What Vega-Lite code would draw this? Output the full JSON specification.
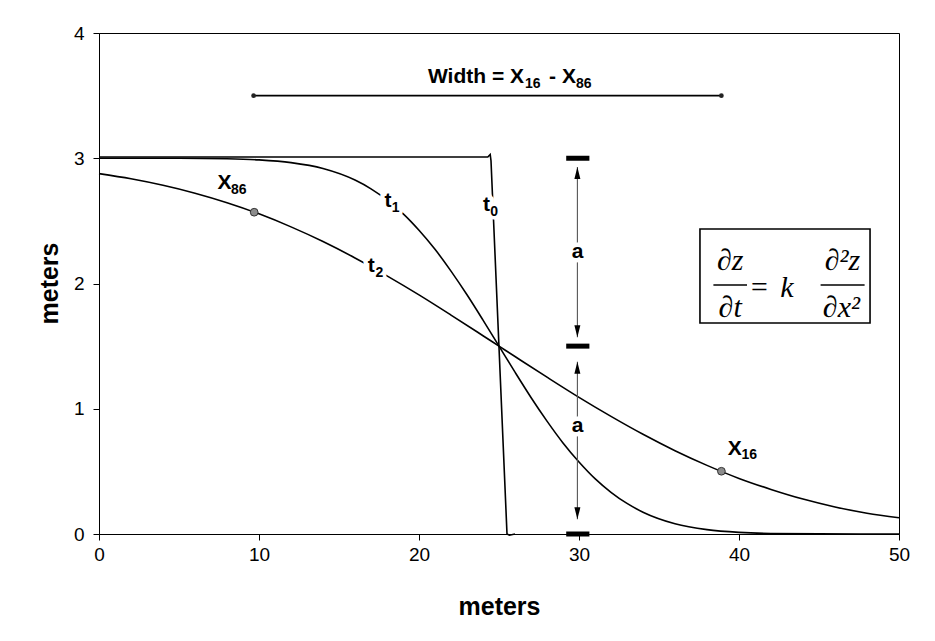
{
  "$schema": "https://vega.github.io/schema/vega-lite/v6.json",
  "width": 800,
  "height": 501,
  "autosize": "none",
  "padding": {"left": 99, "top": 33, "right": 36, "bottom": 107},
  "background": "white",
  "config": {
    "view": {"stroke": "black", "strokeWidth": 1},
    "font": "Liberation Sans",
    "axis": {
      "grid": false,
      "domainColor": "black",
      "tickColor": "black",
      "labelColor": "black",
      "titleColor": "black",
      "labelFont": "Liberation Sans",
      "labelFontSize": 19,
      "labelFlush": false,
      "titleFont": "Liberation Sans",
      "titleFontSize": 25,
      "titleFontWeight": "bold",
      "tickSize": 6,
      "domainWidth": 1,
      "tickWidth": 1
    }
  },
  "datasets": {
    "curves": [
      {"curve": "t1", "x": 0, "y": 3.0}, {"curve": "t1", "x": 5, "y": 3.0},
      {"curve": "t1", "x": 8, "y": 2.996}, {"curve": "t1", "x": 10, "y": 2.987},
      {"curve": "t1", "x": 12, "y": 2.965}, {"curve": "t1", "x": 14, "y": 2.918},
      {"curve": "t1", "x": 16, "y": 2.826}, {"curve": "t1", "x": 17, "y": 2.756},
      {"curve": "t1", "x": 18, "y": 2.667}, {"curve": "t1", "x": 19, "y": 2.558},
      {"curve": "t1", "x": 20, "y": 2.425}, {"curve": "t1", "x": 21, "y": 2.273},
      {"curve": "t1", "x": 22, "y": 2.099}, {"curve": "t1", "x": 23, "y": 1.91},
      {"curve": "t1", "x": 24, "y": 1.708}, {"curve": "t1", "x": 25, "y": 1.5},
      {"curve": "t1", "x": 26, "y": 1.292}, {"curve": "t1", "x": 27, "y": 1.09},
      {"curve": "t1", "x": 28, "y": 0.901}, {"curve": "t1", "x": 29, "y": 0.727},
      {"curve": "t1", "x": 30, "y": 0.575}, {"curve": "t1", "x": 31, "y": 0.442},
      {"curve": "t1", "x": 32, "y": 0.333}, {"curve": "t1", "x": 33, "y": 0.244},
      {"curve": "t1", "x": 34, "y": 0.174}, {"curve": "t1", "x": 36, "y": 0.082},
      {"curve": "t1", "x": 38, "y": 0.035}, {"curve": "t1", "x": 40, "y": 0.013},
      {"curve": "t1", "x": 42, "y": 0.004}, {"curve": "t1", "x": 45, "y": 0.001},
      {"curve": "t1", "x": 50, "y": 0.0},
      {"curve": "t2", "x": 0, "y": 2.877}, {"curve": "t2", "x": 2, "y": 2.836},
      {"curve": "t2", "x": 4, "y": 2.784}, {"curve": "t2", "x": 6, "y": 2.721},
      {"curve": "t2", "x": 8, "y": 2.645}, {"curve": "t2", "x": 10, "y": 2.556},
      {"curve": "t2", "x": 12, "y": 2.452}, {"curve": "t2", "x": 14, "y": 2.335},
      {"curve": "t2", "x": 16, "y": 2.204}, {"curve": "t2", "x": 18, "y": 2.061},
      {"curve": "t2", "x": 20, "y": 1.909}, {"curve": "t2", "x": 22, "y": 1.748},
      {"curve": "t2", "x": 24, "y": 1.583}, {"curve": "t2", "x": 25, "y": 1.5},
      {"curve": "t2", "x": 26, "y": 1.417}, {"curve": "t2", "x": 28, "y": 1.252},
      {"curve": "t2", "x": 30, "y": 1.091}, {"curve": "t2", "x": 32, "y": 0.939},
      {"curve": "t2", "x": 34, "y": 0.796}, {"curve": "t2", "x": 36, "y": 0.665},
      {"curve": "t2", "x": 38, "y": 0.548}, {"curve": "t2", "x": 40, "y": 0.444},
      {"curve": "t2", "x": 42, "y": 0.356}, {"curve": "t2", "x": 44, "y": 0.279},
      {"curve": "t2", "x": 46, "y": 0.216}, {"curve": "t2", "x": 48, "y": 0.166},
      {"curve": "t2", "x": 50, "y": 0.13}
    ],
    "scarp": [
      {"x": 0, "y": 3.01}, {"x": 24.3, "y": 3.01}, {"x": 24.45, "y": 3.03},
      {"x": 24.5, "y": 2.98}, {"x": 25.5, "y": 0.0}, {"x": 25.65, "y": -0.01},
      {"x": 26, "y": 0.0}
    ],
    "widthbar": [{"x": 9.66, "x2": 38.9, "y": 3.5}],
    "widthends": [{"x": 9.66, "y": 3.5}, {"x": 38.9, "y": 3.5}],
    "shafts": [
      {"x": 29.9, "y": 2.93, "y2": 1.57},
      {"x": 29.9, "y": 1.376, "y2": 0.117}
    ],
    "heads": [
      {"x": 29.9, "y": 2.882, "dir": "up"},
      {"x": 29.9, "y": 1.618, "dir": "down"},
      {"x": 29.9, "y": 1.328, "dir": "up"},
      {"x": 29.9, "y": 0.165, "dir": "down"}
    ],
    "bars": [
      {"x": 29.2, "x2": 30.65, "y": 3.0},
      {"x": 29.2, "x2": 30.65, "y": 1.5},
      {"x": 29.2, "x2": 30.65, "y": 0.0}
    ],
    "labels": [
      {"x": 24.0, "y": 2.63, "text": "t"},
      {"x": 17.85, "y": 2.66, "text": "t"},
      {"x": 16.8, "y": 2.14, "text": "t"},
      {"x": 7.4, "y": 2.8, "text": "X"},
      {"x": 39.3, "y": 0.68, "text": "X"},
      {"x": 29.55, "y": 2.25, "text": "a"},
      {"x": 29.55, "y": 0.86, "text": "a"},
      {"x": 20.56, "y": 3.65, "text": "Width = X"},
      {"x": 28.13, "y": 3.65, "text": "- X"}
    ],
    "subs": [
      {"x": 24.45, "y": 2.57, "text": "0"},
      {"x": 18.3, "y": 2.6, "text": "1"},
      {"x": 17.28, "y": 2.08, "text": "2"},
      {"x": 8.25, "y": 2.75, "text": "86"},
      {"x": 40.15, "y": 0.63, "text": "16"},
      {"x": 26.63, "y": 3.59, "text": "16"},
      {"x": 29.81, "y": 3.59, "text": "86"}
    ],
    "markers": [{"x": 9.7, "y": 2.569}, {"x": 38.9, "y": 0.501}],
    "eqbox": [{"x": 37.56, "x2": 48.19, "y": 1.685, "y2": 2.435}],
    "eqbars": [
      {"x": 38.4, "x2": 40.5, "y": 1.988},
      {"x": 45.1, "x2": 47.85, "y": 1.988}
    ],
    "eqtext": [
      {"x": 39.45, "y": 2.108, "text": "∂z"},
      {"x": 39.45, "y": 1.735, "text": "∂t"},
      {"x": 41.25, "y": 1.895, "text": "="},
      {"x": 43.0, "y": 1.895, "text": "k"},
      {"x": 46.47, "y": 2.108, "text": "∂²z"},
      {"x": 46.4, "y": 1.735, "text": "∂x²"}
    ]
  },
  "layer": [
    {
      "data": {"name": "curves"},
      "mark": {"type": "line", "color": "black", "strokeWidth": 1.6, "interpolate": "monotone"},
      "encoding": {
        "x": {
          "field": "x", "type": "quantitative",
          "scale": {"domain": [0, 50], "nice": false, "zero": false},
          "axis": {"title": "meters", "values": [0, 10, 20, 30, 40, 50], "format": "d", "labelPadding": 5, "titleY": 80, "titleBaseline": "alphabetic"}
        },
        "y": {
          "field": "y", "type": "quantitative",
          "scale": {"domain": [0, 4], "nice": false},
          "axis": {"title": "meters", "values": [0, 1, 2, 3, 4], "format": "d", "labelPadding": 9, "titleX": -42, "titleY": 250, "titleAngle": -90, "titleAlign": "center", "titleBaseline": "alphabetic"}
        },
        "detail": {"field": "curve"}
      }
    },
    {
      "data": {"name": "scarp"},
      "mark": {"type": "line", "color": "black", "strokeWidth": 1.6, "clip": false},
      "encoding": {
        "x": {"field": "x", "type": "quantitative"},
        "y": {"field": "y", "type": "quantitative"}
      }
    },
    {
      "data": {"name": "widthbar"},
      "mark": {"type": "rule", "color": "black", "strokeWidth": 1.6},
      "encoding": {
        "x": {"field": "x", "type": "quantitative"},
        "x2": {"field": "x2"},
        "y": {"field": "y", "type": "quantitative"}
      }
    },
    {
      "data": {"name": "widthends"},
      "mark": {"type": "point", "filled": true, "color": "#222", "size": 22, "opacity": 1},
      "encoding": {
        "x": {"field": "x", "type": "quantitative"},
        "y": {"field": "y", "type": "quantitative"}
      }
    },
    {
      "data": {"name": "shafts"},
      "mark": {"type": "rule", "color": "#555", "strokeWidth": 1.1},
      "encoding": {
        "x": {"field": "x", "type": "quantitative"},
        "y": {"field": "y", "type": "quantitative"},
        "y2": {"field": "y2"}
      }
    },
    {
      "data": {"name": "heads"},
      "mark": {"type": "point", "filled": true, "color": "black", "size": 144, "opacity": 1},
      "encoding": {
        "x": {"field": "x", "type": "quantitative"},
        "y": {"field": "y", "type": "quantitative"},
        "shape": {
          "field": "dir", "type": "nominal", "legend": null,
          "scale": {"domain": ["up", "down"], "range": ["M0,-1L0.5,1L-0.5,1Z", "M0,1L0.5,-1L-0.5,-1Z"]}
        }
      }
    },
    {
      "data": {"name": "bars"},
      "mark": {"type": "rule", "color": "black", "strokeWidth": 5, "strokeCap": "butt"},
      "encoding": {
        "x": {"field": "x", "type": "quantitative"},
        "x2": {"field": "x2"},
        "y": {"field": "y", "type": "quantitative"}
      }
    },
    {
      "data": {"name": "labels"},
      "mark": {"type": "text", "font": "Liberation Sans", "fontWeight": "bold", "fontSize": 21, "align": "left", "baseline": "middle", "fill": "white", "stroke": "white", "strokeWidth": 9, "strokeJoin": "round"},
      "encoding": {
        "x": {"field": "x", "type": "quantitative"},
        "y": {"field": "y", "type": "quantitative"},
        "text": {"field": "text"}
      }
    },
    {
      "data": {"name": "subs"},
      "mark": {"type": "text", "font": "Liberation Sans", "fontWeight": "bold", "fontSize": 14, "align": "left", "baseline": "middle", "fill": "white", "stroke": "white", "strokeWidth": 7, "strokeJoin": "round"},
      "encoding": {
        "x": {"field": "x", "type": "quantitative"},
        "y": {"field": "y", "type": "quantitative"},
        "text": {"field": "text"}
      }
    },
    {
      "data": {"name": "labels"},
      "mark": {"type": "text", "font": "Liberation Sans", "fontWeight": "bold", "fontSize": 21, "align": "left", "baseline": "middle", "color": "black"},
      "encoding": {
        "x": {"field": "x", "type": "quantitative"},
        "y": {"field": "y", "type": "quantitative"},
        "text": {"field": "text"}
      }
    },
    {
      "data": {"name": "subs"},
      "mark": {"type": "text", "font": "Liberation Sans", "fontWeight": "bold", "fontSize": 14, "align": "left", "baseline": "middle", "color": "black"},
      "encoding": {
        "x": {"field": "x", "type": "quantitative"},
        "y": {"field": "y", "type": "quantitative"},
        "text": {"field": "text"}
      }
    },
    {
      "data": {"name": "markers"},
      "mark": {"type": "point", "filled": true, "fill": "#8c8c8c", "stroke": "#333", "strokeWidth": 1, "size": 60, "opacity": 1},
      "encoding": {
        "x": {"field": "x", "type": "quantitative"},
        "y": {"field": "y", "type": "quantitative"}
      }
    },
    {
      "data": {"name": "eqbox"},
      "mark": {"type": "rect", "fill": "white", "stroke": "black", "strokeWidth": 1.6},
      "encoding": {
        "x": {"field": "x", "type": "quantitative"},
        "x2": {"field": "x2"},
        "y": {"field": "y", "type": "quantitative"},
        "y2": {"field": "y2"}
      }
    },
    {
      "data": {"name": "eqbars"},
      "mark": {"type": "rule", "color": "black", "strokeWidth": 1.3},
      "encoding": {
        "x": {"field": "x", "type": "quantitative"},
        "x2": {"field": "x2"},
        "y": {"field": "y", "type": "quantitative"}
      }
    },
    {
      "data": {"name": "eqtext"},
      "mark": {"type": "text", "font": "Liberation Serif", "fontStyle": "italic", "fontSize": 30, "align": "center", "baseline": "alphabetic", "color": "black"},
      "encoding": {
        "x": {"field": "x", "type": "quantitative"},
        "y": {"field": "y", "type": "quantitative"},
        "text": {"field": "text"}
      }
    }
  ]
}
